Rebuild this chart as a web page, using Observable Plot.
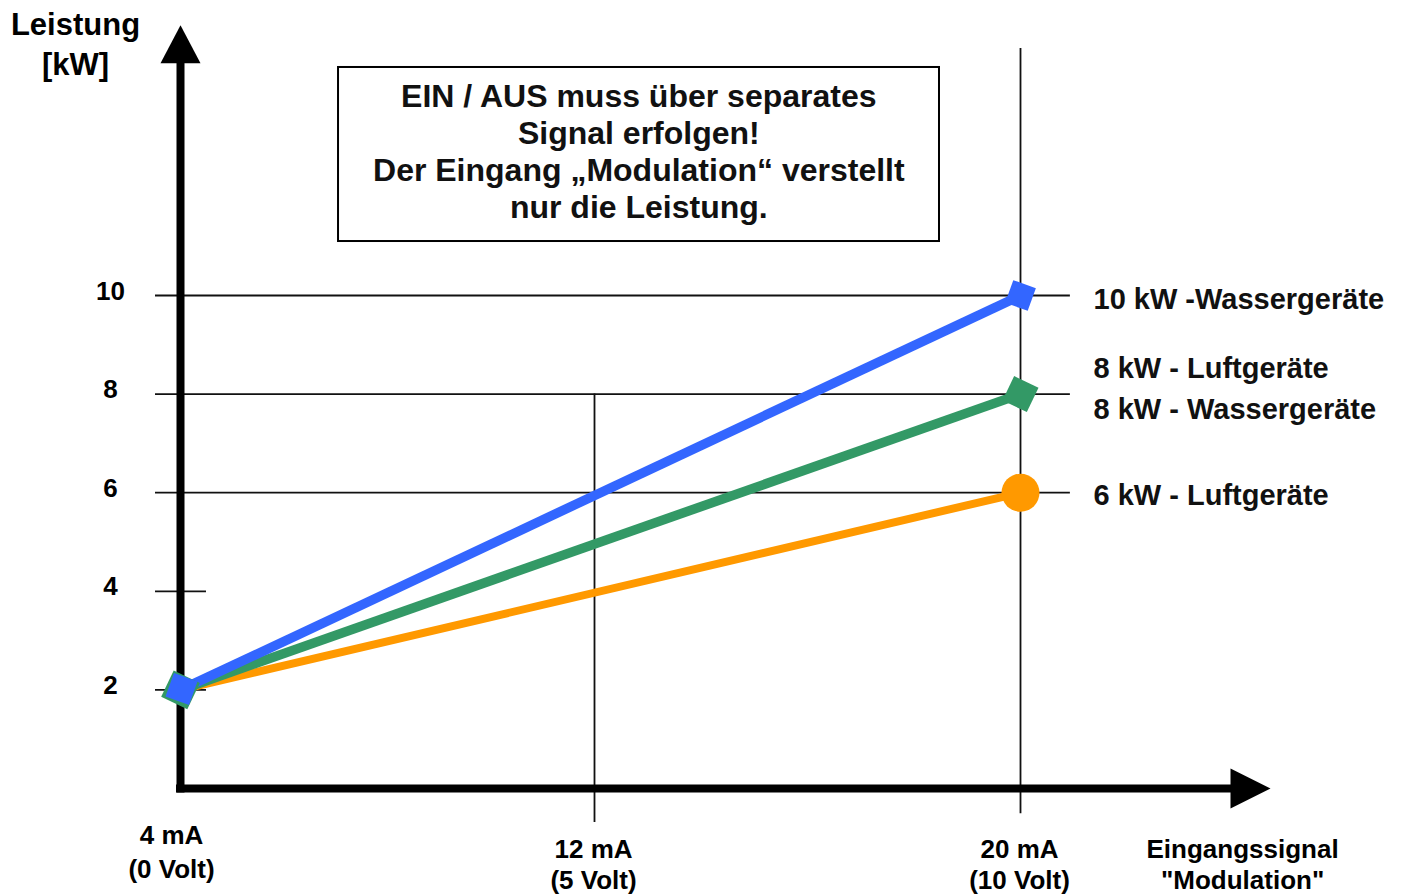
<!DOCTYPE html>
<html>
<head>
<meta charset="utf-8">
<script src="https://cdn.jsdelivr.net/npm/d3@7"></script>
<script src="https://cdn.jsdelivr.net/npm/@observablehq/plot@0.6"></script>
<style>
  html, body { margin: 0; padding: 0; background: #fff; }
  svg { display: block; }
</style>
</head>
<body>
<div id="chart"></div>
<script>
// ---------- data ----------
const inputMA = [4, 12, 20];
const maLabels = ["4 mA", "12 mA", "20 mA"];
const voltLabels = ["(0 Volt)", "(5 Volt)", "(10 Volt)"];
const powerTicks = [2, 4, 6, 8, 10];
const seriesKeys = ["6kW", "8kW", "10kW"];
const seriesStartMA = 4;
const seriesEndMA = 20;
const seriesStartKW = [2, 2, 2];
const seriesEndKW = [6, 8, 10];
const seriesColors = ["#ff9900", "#339966", "#3366ff"];
const seriesLabelTexts = ["6 kW - Luftgeräte", "8 kW - Luftgeräte", "8 kW - Wassergeräte", "10 kW -Wassergeräte"];
const seriesLabelKW = [6, 8, 8, 10];
const noteLines = ["EIN / AUS muss über separates", "Signal erfolgen!", "Der Eingang „Modulation“ verstellt", "nur die Leistung."];
const yTitle = "Leistung\n[kW]";
const xTitle = "Eingangssignal\n\"Modulation\"";

// ---------- layout (not data) ----------
const W = 1401, H = 896;
const M = {left: 180, right: 381, top: 295, bottom: 108};
const pxPerMA = (W - M.left - M.right) / 16;
const pxPerKW = (H - M.top - M.bottom) / 10;
const L = {
  yArrowBase: 14.71, xArrowBase: 24,
  gridX1: 3.524, gridLongX2: 20.95, gridShortX2: 4.495,
  v12Low: -0.69, v20Low: -0.51, v20Top: 15.01,
  midShift: -6,
  box: {x1: 7.01, x2: 18.457, y1: 11.095, y2: 14.625},
  noteX: 12.73, noteY: 14.35,
  xTitleX: 24.23,
  labelDy: [12, -16, 25, 13]
};
const font = "'Liberation Sans', Arial, Helvetica, sans-serif";

// ---------- symbols ----------
function polySymbol(pts) {
  return {draw(ctx) { ctx.moveTo(pts[0][0], pts[0][1]); for (let i = 1; i < pts.length; ++i) ctx.lineTo(pts[i][0], pts[i][1]); ctx.closePath(); }};
}
function rotatedSquare(side, deg) {
  const a = deg * Math.PI / 180, h = side / 2;
  return polySymbol([[-h, -h], [h, -h], [h, h], [-h, h]].map(([x, y]) => [x * Math.cos(a) - y * Math.sin(a), x * Math.sin(a) + y * Math.cos(a)]));
}
const arrowUp = polySymbol([[0, -38], [20, 0], [-20, 0]]);
const arrowRight = polySymbol([[40, 0], [0, -20], [0, 20]]);

// ---------- derived tables ----------
const lineData = seriesKeys.flatMap((k, i) => [
  {key: k, x: seriesStartMA, y: seriesStartKW[i]},
  {key: k, x: seriesEndMA, y: seriesEndKW[i]}
]);
function lineAngle(i) {
  return Math.atan2((seriesEndKW[i] - seriesStartKW[i]) * pxPerKW, (seriesEndMA - seriesStartMA) * pxPerMA) * 180 / Math.PI;
}
const xTickData = inputMA.map((v, i) => ({x: v, text: maLabels[i] + "\n" + voltLabels[i]}));

const marks = [
  // grid lines
  Plot.ruleY(powerTicks.filter(d => d >= 6), {x1: L.gridX1, x2: L.gridLongX2, stroke: "#111", strokeWidth: 1.8}),
  Plot.ruleY(powerTicks.filter(d => d < 6), {x1: L.gridX1, x2: L.gridShortX2, stroke: "#111", strokeWidth: 1.8}),
  Plot.ruleX([inputMA[1]], {y1: 8, y2: L.v12Low, dx: L.midShift, stroke: "#111", strokeWidth: 1.8}),
  Plot.ruleX([inputMA[2]], {y1: L.v20Top, y2: L.v20Low, stroke: "#111", strokeWidth: 1.8}),
  // axes
  Plot.ruleX([inputMA[0]], {y1: -0.09, y2: L.yArrowBase + 0.05, stroke: "#000", strokeWidth: 8}),
  Plot.ruleY([0], {x1: inputMA[0] - 0.076, x2: L.xArrowBase + 0.05, stroke: "#000", strokeWidth: 8}),
  Plot.dot([0], {x: inputMA[0], y: L.yArrowBase, r: 1, symbol: arrowUp, fill: "#000", stroke: "none"}),
  Plot.dot([0], {x: L.xArrowBase, y: 0, r: 1, symbol: arrowRight, fill: "#000", stroke: "none"}),
  // note box
  Plot.rect([0], {x1: L.box.x1, x2: L.box.x2, y1: L.box.y1, y2: L.box.y2, fill: "#fff", stroke: "#000", strokeWidth: 2}),
  Plot.text([noteLines.join("\n")], {x: L.noteX, y: L.noteY, text: d => d, lineAnchor: "top", lineHeight: 1.156, fontSize: 32, fontWeight: "bold", fill: "#111"}),
  // series lines
  ...seriesKeys.map((k, i) => Plot.line(lineData.filter(d => d.key === k), {x: "x", y: "y", stroke: seriesColors[i], strokeWidth: i === 0 ? 8 : 9.5, strokeLinecap: "butt"})),
  // end markers
  Plot.dot([0], {x: seriesEndMA, y: seriesEndKW[0], r: 19, fill: seriesColors[0], stroke: "none"}),
  Plot.dot([0], {x: seriesEndMA, y: seriesEndKW[1], r: 1, symbol: rotatedSquare(27, 45 - lineAngle(1)), fill: seriesColors[1], stroke: "none"}),
  Plot.dot([0], {x: seriesEndMA, y: seriesEndKW[2], r: 1, symbol: rotatedSquare(24, 45 - lineAngle(2)), fill: seriesColors[2], stroke: "none"}),
  // start markers
  Plot.dot([0], {x: seriesStartMA, y: seriesStartKW[1], r: 1, symbol: rotatedSquare(29, 45 - lineAngle(1)), fill: seriesColors[1], stroke: "none"}),
  Plot.dot([0], {x: seriesStartMA, y: seriesStartKW[2], r: 1, symbol: rotatedSquare(25, 45 - lineAngle(2)), fill: seriesColors[2], stroke: "none", dx: 1, dy: -1}),
  // y tick labels
  Plot.text(powerTicks, {x: inputMA[0], y: d => d, text: d => String(d), dx: -70, dy: 4, lineAnchor: "bottom", textAnchor: "middle", fontSize: 26, fontWeight: "bold", fill: "#000"}),
  // x tick labels
  Plot.text(xTickData.filter(d => d.x === inputMA[0]), {x: "x", y: 0, text: "text", dx: -9, dy: 89, lineAnchor: "bottom", lineHeight: 1.3, fontSize: 26, fontWeight: "bold", fill: "#000"}),
  Plot.text(xTickData.filter(d => d.x === inputMA[1]), {x: "x", y: 0, text: "text", dx: L.midShift - 1, dy: 100, lineAnchor: "bottom", lineHeight: 1.19, fontSize: 26, fontWeight: "bold", fill: "#000"}),
  Plot.text(xTickData.filter(d => d.x === inputMA[2]), {x: "x", y: 0, text: "text", dx: -1, dy: 100, lineAnchor: "bottom", lineHeight: 1.19, fontSize: 26, fontWeight: "bold", fill: "#000"}),
  // axis titles
  Plot.text([xTitle], {x: L.xTitleX, y: 0, text: d => d, dy: 100, lineAnchor: "bottom", lineHeight: 1.19, fontSize: 26, fontWeight: "bold", fill: "#000"}),
  Plot.text([yTitle], {x: inputMA[0], y: L.yArrowBase, text: d => d, dx: -105, dy: 12, lineAnchor: "bottom", lineHeight: 1.3, fontSize: 31, fontWeight: "bold", fill: "#000"}),
  // series labels
  ...seriesLabelTexts.map((t, i) => Plot.text([t], {x: seriesEndMA, y: seriesLabelKW[i], text: d => d, dx: 73, dy: L.labelDy[i], lineAnchor: "bottom", textAnchor: "start", fontSize: 29, fontWeight: "bold", fill: "#111"}))
];

const chart = Plot.plot({
  width: W, height: H,
  marginLeft: M.left, marginRight: M.right, marginTop: M.top, marginBottom: M.bottom,
  x: {type: "linear", domain: [4, 20], axis: null},
  y: {type: "linear", domain: [0, 10], axis: null},
  style: {fontFamily: font, background: "#fff", overflow: "visible"},
  marks
});
document.getElementById("chart").appendChild(chart);
</script>
</body>
</html>
